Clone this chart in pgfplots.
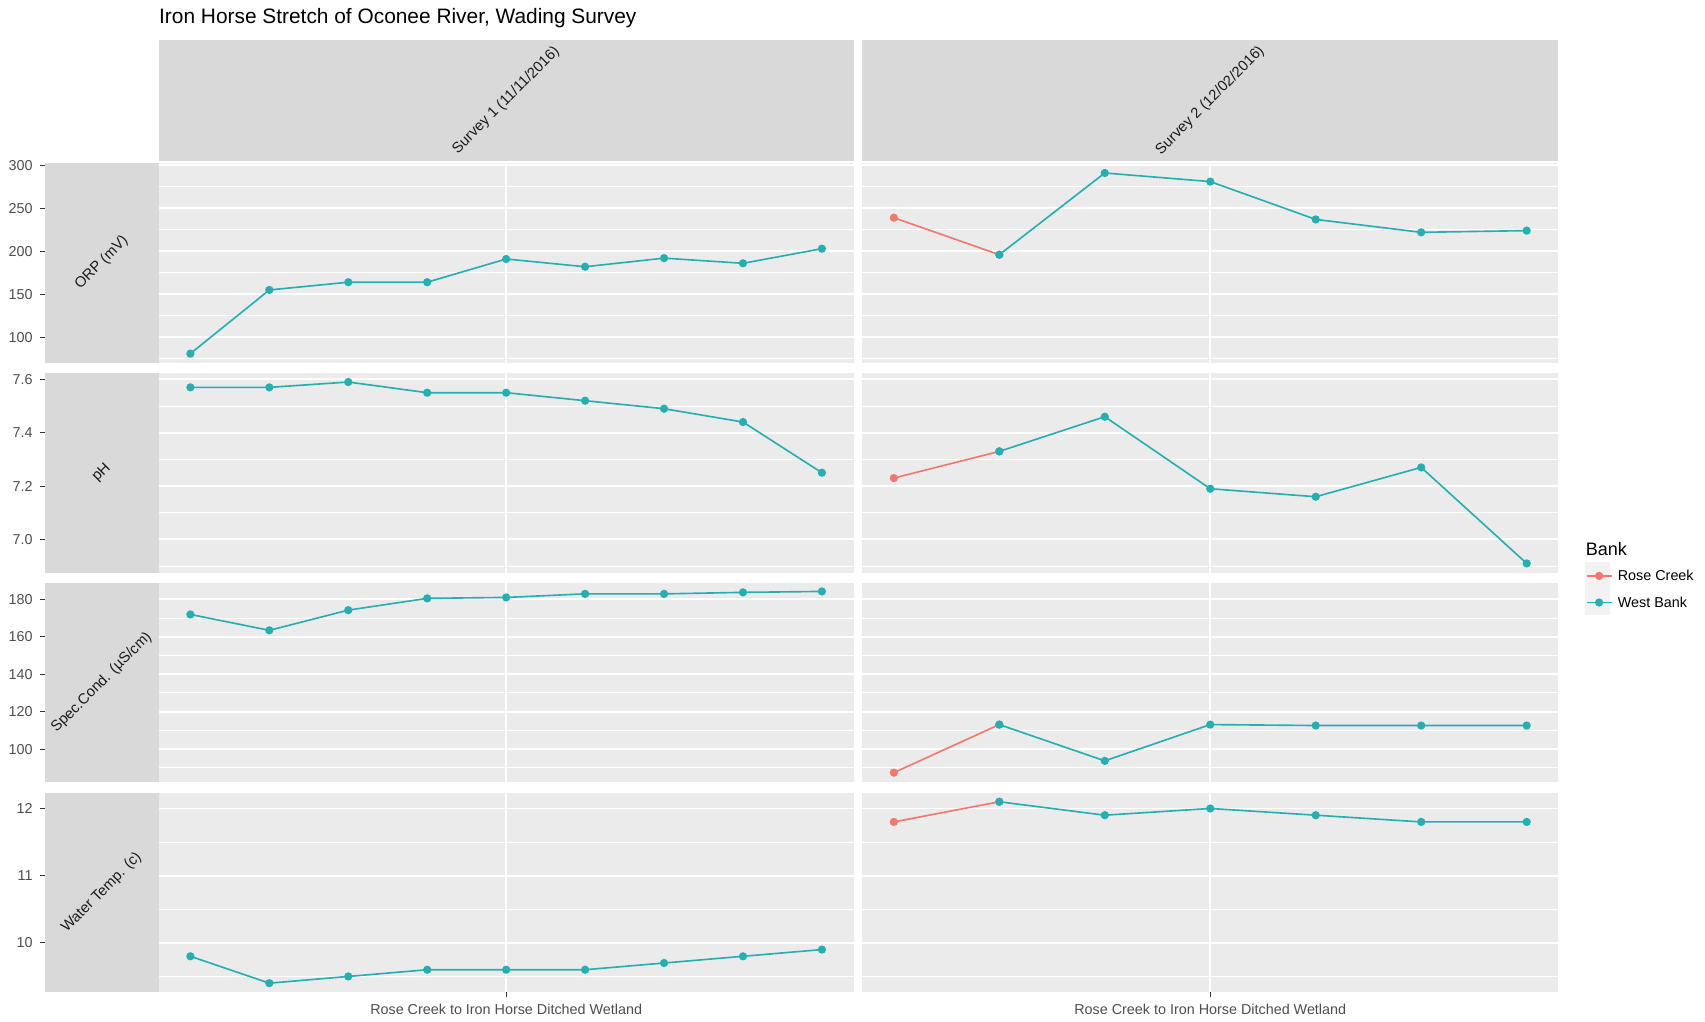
\documentclass[border=0pt]{standalone}
\usepackage{fontspec}
\setmainfont{Liberation Sans}
\usepackage{pgfplots}
\pgfplotsset{compat=1.18}
\definecolor{rose}{HTML}{F0786F}
\definecolor{west}{HTML}{26AEB1}
\definecolor{panelbg}{HTML}{EBEBEB}
\definecolor{stripbg}{HTML}{D9D9D9}
\definecolor{keybg}{HTML}{F2F2F2}
\definecolor{labc}{HTML}{4D4D4D}
\definecolor{stripc}{HTML}{1A1A1A}
\definecolor{tickc}{HTML}{333333}
\pgfplotsset{
  panel/.style={
    scale only axis, height=91.75pt, anchor=south west,
    axis background/.style={fill=panelbg},
    axis line style={draw=none},
    xmajorgrids, ymajorgrids, yminorgrids,
    major grid style={white, line width=0.9pt},
    minor grid style={white, line width=0.45pt},
    tick align=outside, major tick length=2pt, minor tick length=0pt,
    tick style={color=tickc, line width=0.5pt},
    xtick pos=lower, ytick pos=left,
    ticklabel style={font=\fontsize{6.6}{7}\selectfont, text=labc},
    /pgf/number format/assume math mode=true,
    clip=false,
    every axis plot/.append style={line width=0.75pt, mark=*, mark size=1.5pt, mark options={solid}},
  },
  col1/.style={panel, at={(20.5pt,#1)}, width=372pt, xmin=-0.847, xmax=9.401, xtick={5}},
  col2/.style={panel, at={(396.5pt,#1)}, width=320pt, xmin=0.701, xmax=7.299, xtick={4},
    yticklabels={}, ytick style={draw=none}},
  notbottom/.style={xticklabels={}, xtick style={draw=none}},
  bottom/.style={xticklabels={Rose Creek to Iron Horse Ditched Wetland}},
  orp/.style={ymin=70.5, ymax=302.5, ytick={100,150,200,250,300}, minor ytick={75,125,175,225,275}},
  ph/.style={ymin=6.876, ymax=7.624, ytick={7.0,7.2,7.4,7.6}, minor ytick={6.9,7.1,7.3,7.5},
    yticklabel style={/pgf/number format/.cd, fixed, fixed zerofill, precision=1}},
  sc/.style={ymin=82.2, ymax=188.9, ytick={100,120,140,160,180}, minor ytick={90,110,130,150,170}},
  wt/.style={ymin=9.265, ymax=12.235, ytick={10,11,12}, minor ytick={9.5,10.5,11.5}},
}
\tikzset{striptext/.style={rotate=45, font=\fontsize{6.8}{8}\selectfont, text=stripc}}
\begin{document}
\begin{tikzpicture}
\path[use as bounding box] (0,0) rectangle (784pt,469.5pt);
% legend key background
\fill[keybg] (729pt,186.5pt) rectangle (740.5pt,211pt);

% ORP
\begin{axis}[col1=302.75pt, orp, notbottom]
\addplot[color=west] coordinates {(1,81)(2,155)(3,164)(4,164)(5,191)(6,182)(7,192)(8,186)(9,203)};
\end{axis}
\begin{axis}[col2=302.75pt, orp, notbottom]
\addplot[color=rose] coordinates {(1,239)(2,196)};
\addplot[color=west] coordinates {(2,196)(3,291)(4,281)(5,237)(6,222)(7,224)};
\end{axis}
% pH
\begin{axis}[col1=206.25pt, ph, notbottom]
\addplot[color=west] coordinates {(1,7.57)(2,7.57)(3,7.59)(4,7.55)(5,7.55)(6,7.52)(7,7.49)(8,7.44)(9,7.25)};
\end{axis}
\begin{axis}[col2=206.25pt, ph, notbottom,
  legend style={at={(1.039,0.052)}, anchor=north west, draw=none, fill=none, inner sep=0pt,
    row sep=0pt, column sep=2.5pt, font=\fontsize{6.6}{7}\selectfont,
    nodes={inner sep=0pt, minimum height=12.25pt, text height=4.7pt, text depth=0pt}},
  legend cell align=left,
  legend image code/.code={\draw[mark repeat=2,mark phase=2,#1] plot coordinates {(0pt,0pt) (5.75pt,0pt) (11.5pt,0pt)};}]
\addplot[color=rose] coordinates {(1,7.23)(2,7.33)};
\addlegendentry{Rose Creek}
\addplot[color=west] coordinates {(2,7.33)(3,7.46)(4,7.19)(5,7.16)(6,7.27)(7,6.91)};
\addlegendentry{West Bank}
\end{axis}
% Spec cond
\begin{axis}[col1=109.75pt, sc, notbottom]
\addplot[color=west] coordinates {(1,172)(2,163.5)(3,174.3)(4,180.6)(5,181.1)(6,183)(7,183)(8,183.8)(9,184.3)};
\end{axis}
\begin{axis}[col2=109.75pt, sc, notbottom]
\addplot[color=rose] coordinates {(1,87.4)(2,113.1)};
\addplot[color=west] coordinates {(2,113.1)(3,93.7)(4,113.1)(5,112.6)(6,112.6)(7,112.6)};
\end{axis}
% Water temp
\begin{axis}[col1=13.25pt, wt, bottom]
\addplot[color=west] coordinates {(1,9.8)(2,9.4)(3,9.5)(4,9.6)(5,9.6)(6,9.6)(7,9.7)(8,9.8)(9,9.9)};
\end{axis}
\begin{axis}[col2=13.25pt, wt, bottom]
\addplot[color=rose] coordinates {(1,11.8)(2,12.1)};
\addplot[color=west] coordinates {(2,12.1)(3,11.9)(4,12.0)(5,11.9)(6,11.8)(7,11.8)};
\end{axis}

% left strips
\fill[stripbg] (20.5pt,302.75pt) rectangle (73pt,394.5pt);
\fill[stripbg] (20.5pt,206.25pt) rectangle (73pt,298pt);
\fill[stripbg] (20.5pt,109.75pt) rectangle (73pt,201.5pt);
\fill[stripbg] (20.5pt,13.25pt) rectangle (73pt,105pt);
\node[striptext] at (46.75pt,348.625pt) {ORP (mV)};
\node[striptext] at (46.75pt,252.125pt) {pH};
\node[striptext] at (46.75pt,155.625pt) {Spec.Cond. (µS/cm)};
\node[striptext] at (46.75pt,59.125pt) {Water Temp. (c)};
% top strips
\fill[stripbg] (73pt,395.5pt) rectangle (392.5pt,451pt);
\fill[stripbg] (396.5pt,395.5pt) rectangle (716.5pt,451pt);
\node[striptext] at (232.75pt,423.25pt) {Survey 1 (11/11/2016)};
\node[striptext] at (556.5pt,423.25pt) {Survey 2 (12/02/2016)};
% title
\node[anchor=west, font=\fontsize{9.6}{11}\selectfont, inner sep=0pt] at (73pt,461pt) {Iron Horse Stretch of Oconee River, Wading Survey};
% legend title
\node[anchor=west, font=\fontsize{8.3}{9}\selectfont, inner sep=0pt] at (729pt,217pt) {Bank};
\end{tikzpicture}
\end{document}
